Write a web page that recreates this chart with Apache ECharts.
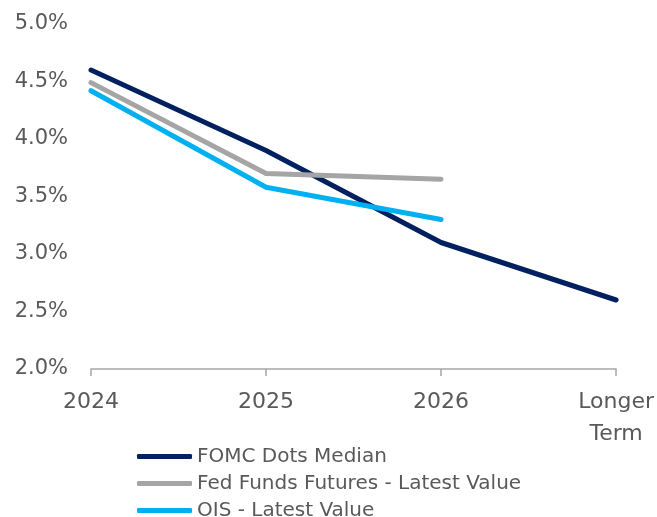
<!DOCTYPE html>
<html>
<head>
<meta charset="utf-8">
<script src="https://cdn.jsdelivr.net/npm/echarts@6/dist/echarts.min.js"></script>
<style>html,body{margin:0;padding:0;background:#fff;}#c{width:657px;height:517px;}</style>
</head>
<body>
<div id="c"></div>
<script>
const categories = ['2024', '2025', '2026', 'Longer\nTerm'];
const fomcDots = [4.6, 3.9, 3.1, 2.6];
const fedFundsFutures = [4.49, 3.70, 3.65, null];
const ois = [4.42, 3.58, 3.30, null];
const seriesNames = ['FOMC Dots Median', 'Fed Funds Futures - Latest Value', 'OIS - Latest Value'];
const FONT = '"DejaVu Sans", "Liberation Sans", Arial, sans-serif';

const chart = echarts.init(document.getElementById('c'), null, {renderer: 'canvas'});
function lineSeries(name, data, color) {
  return {
    name: name, type: 'line', data: data, symbol: 'none', showSymbol: false,
    lineStyle: {color: color, width: 5, cap: 'round', join: 'round'},
    itemStyle: {color: color},
    emphasis: {disabled: true},
    animation: false
  };
}
function legendItem(name, top) {
  return {
    orient: 'vertical', left: 132, top: top,
    itemWidth: 55, itemHeight: 5, itemGap: 0,
    icon: 'roundRect', selectedMode: false,
    textStyle: {fontFamily: FONT, fontSize: 20, color: '#595959', lineHeight: 21, padding: [0,0,0,0]},
    data: [name]
  };
}
chart.setOption({
  animation: false,
  grid: {left: 91, right: 40, top: 24, bottom: 148, containLabel: false},
  legend: [
    legendItem(seriesNames[0], 441),
    legendItem(seriesNames[1], 468),
    legendItem(seriesNames[2], 495)
  ],
  xAxis: {
    type: 'category', data: categories, boundaryGap: false,
    axisLine: {lineStyle: {color: '#a6a6a6', width: 1.5}},
    axisTick: {show: true, length: 7, lineStyle: {color: '#a6a6a6', width: 1.5}, alignWithLabel: true},
    axisLabel: {fontFamily: FONT, fontSize: 22, color: '#595959', margin: 17, lineHeight: 32, interval: 0},
    splitLine: {show: false}
  },
  yAxis: {
    type: 'value', min: 2, max: 5, interval: 0.5,
    axisLine: {show: false}, axisTick: {show: false}, splitLine: {show: false},
    axisLabel: {fontFamily: FONT, fontSize: 21, color: '#595959', margin: 23,
      formatter: v => v.toFixed(1) + '%'}
  },
  series: [
    lineSeries(seriesNames[0], fomcDots, '#002060'),
    lineSeries(seriesNames[1], fedFundsFutures, '#a5a5a5'),
    lineSeries(seriesNames[2], ois, '#00b0f0')
  ]
});
</script>
</body>
</html>
